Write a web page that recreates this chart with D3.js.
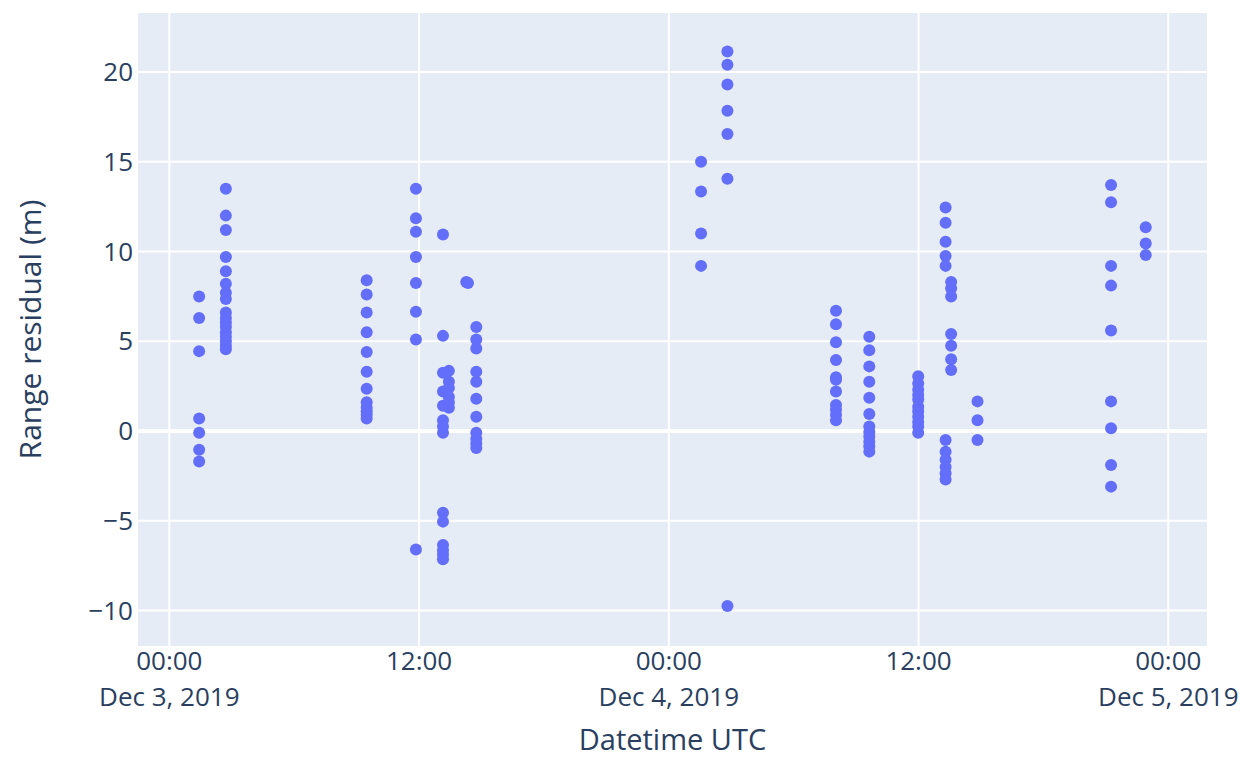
<!DOCTYPE html>
<html>
<head>
<meta charset="utf-8">
<script src="https://cdn.jsdelivr.net/npm/d3@7"></script>
<style>
  body { margin: 0; background: #fff; }
  text { font-family: "Open Sans", sans-serif; fill: #2a3f5f; }
</style>
</head>
<body>
<div class="chart-area"></div>
<script>
// pass times (UTC) and the range residuals measured in each pass
const passTimes = [
  "2019-12-03T01:26", "2019-12-03T02:43", "2019-12-03T09:29", "2019-12-03T11:51",
  "2019-12-03T13:09", "2019-12-03T13:26", "2019-12-03T14:16", "2019-12-03T14:21",
  "2019-12-03T14:45", "2019-12-04T01:33", "2019-12-04T02:49", "2019-12-04T08:02",
  "2019-12-04T09:38", "2019-12-04T11:59", "2019-12-04T13:18", "2019-12-04T13:34",
  "2019-12-04T14:50", "2019-12-04T21:15", "2019-12-04T22:55"
];
const passResiduals = [
  [7.5, 6.3, 4.45, 0.7, -0.1, -1.05, -1.7],
  [13.5, 12.0, 11.2, 9.7, 8.9, 8.2, 7.7, 7.35, 6.6, 6.3, 6.05, 5.8, 5.5, 5.25, 5.0, 4.75, 4.55],
  [8.4, 7.6, 6.6, 5.5, 4.4, 3.3, 2.35, 1.6, 1.3, 1.1, 0.9, 0.7],
  [13.5, 11.85, 11.1, 9.7, 8.25, 6.65, 5.1, -6.6],
  [10.95, 5.3, 3.25, 2.2, 1.4, 0.6, 0.25, -0.1, -4.55, -5.05, -6.35, -6.65, -6.9, -7.15],
  [3.35, 2.75, 2.4, 1.9, 1.6, 1.3],
  [8.3],
  [8.25],
  [5.8, 5.1, 4.6, 3.3, 2.75, 1.8, 0.8, -0.1, -0.45, -0.7, -0.95],
  [15.0, 13.35, 11.0, 9.2],
  [21.15, 20.4, 19.3, 17.85, 16.55, 14.05, -9.75],
  [6.7, 5.95, 4.95, 3.95, 3.0, 2.85, 2.2, 1.45, 1.2, 0.9, 0.6],
  [5.25, 4.5, 3.6, 2.75, 1.85, 0.95, 0.25, -0.05, -0.3, -0.6, -0.85, -1.15],
  [3.05, 2.65, 2.3, 2.0, 1.75, 1.35, 1.1, 0.8, 0.5, 0.25, -0.1],
  [12.45, 11.6, 10.55, 9.75, 9.2, -0.5, -1.15, -1.6, -2.0, -2.35, -2.7],
  [8.3, 7.95, 7.5, 5.4, 4.75, 4.0, 3.4],
  [1.65, 0.6, -0.5],
  [13.7, 12.75, 9.2, 8.1, 5.6, 1.65, 0.15, -1.9, -3.1],
  [11.35, 10.45, 9.8]
];
const yTicks = [-10, -5, 0, 5, 10, 15, 20];
const xLabel = "Datetime UTC";
const yLabel = "Range residual (m)";

let width = 1245;
let height = 759;
let margin = {left: 138, right: 38, top: 13, bottom: 113};

// flatten into points
let points = [];
passTimes.forEach((t, i) => {
  let date = new Date(t + ":00Z");
  passResiduals[i].forEach(v => points.push({date: date, value: v}));
});

const svg = d3.select(".chart-area").append("svg")
  .attr("width", width)
  .attr("height", height);

const x = d3.scaleUtc()
  .domain([new Date("2019-12-02T22:29:42Z"), new Date("2019-12-05T01:51:36Z")])
  .range([margin.left, width - margin.right]);

const y = d3.scaleLinear()
  .domain([-11.98, 23.29])
  .range([height - margin.bottom, margin.top]);

// plot background
svg.append("rect")
  .attr("x", margin.left)
  .attr("y", margin.top)
  .attr("width", width - margin.left - margin.right)
  .attr("height", height - margin.top - margin.bottom)
  .attr("fill", "#e5ecf6");

let xTicks = x.ticks(d3.utcHour.every(12));

// gridlines
svg.append("g")
  .selectAll("line")
  .data(xTicks)
  .join("line")
  .attr("x1", d => x(d)).attr("x2", d => x(d))
  .attr("y1", margin.top).attr("y2", height - margin.bottom)
  .attr("stroke", "#fff")
  .attr("stroke-width", 2);

svg.append("g")
  .selectAll("line")
  .data(yTicks)
  .join("line")
  .attr("x1", margin.left).attr("x2", width - margin.right)
  .attr("y1", d => y(d)).attr("y2", d => y(d))
  .attr("stroke", "#fff")
  .attr("stroke-width", d => d === 0 ? 4 : 2);

// tick labels
const fmtTime = d3.utcFormat("%H:%M");
const fmtDate = d3.utcFormat("%b %-d, %Y");

svg.append("g")
  .selectAll("text")
  .data(xTicks)
  .join("text")
  .attr("text-anchor", "middle")
  .attr("font-size", 26)
  .attr("x", d => x(d))
  .attr("y", 670)
  .text(d => fmtTime(d));

// date line only under midnight ticks
svg.append("g")
  .selectAll("text")
  .data(xTicks.filter(d => d.getUTCHours() === 0))
  .join("text")
  .attr("text-anchor", "middle")
  .attr("font-size", 26)
  .attr("x", d => x(d))
  .attr("y", 706)
  .text(d => fmtDate(d));

svg.append("g")
  .selectAll("text")
  .data(yTicks)
  .join("text")
  .attr("text-anchor", "end")
  .attr("font-size", 26)
  .attr("x", 133)
  .attr("y", d => y(d))
  .attr("dy", "0.35em")
  .text(d => d < 0 ? "\u2212" + Math.abs(d) : d);

// axis titles
svg.append("text")
  .attr("text-anchor", "middle")
  .attr("font-size", 29)
  .attr("x", (margin.left + width - margin.right) / 2)
  .attr("y", 750)
  .text(xLabel);

svg.append("text")
  .attr("text-anchor", "middle")
  .attr("font-size", 30)
  .attr("transform", `translate(41,${(margin.top + height - margin.bottom) / 2}) rotate(-90)`)
  .text(yLabel);

// markers
svg.append("g")
  .selectAll("circle")
  .data(points)
  .join("circle")
  .attr("cx", d => x(d.date))
  .attr("cy", d => y(d.value))
  .attr("r", 6)
  .attr("fill", "#636efa");
</script>
</body>
</html>
